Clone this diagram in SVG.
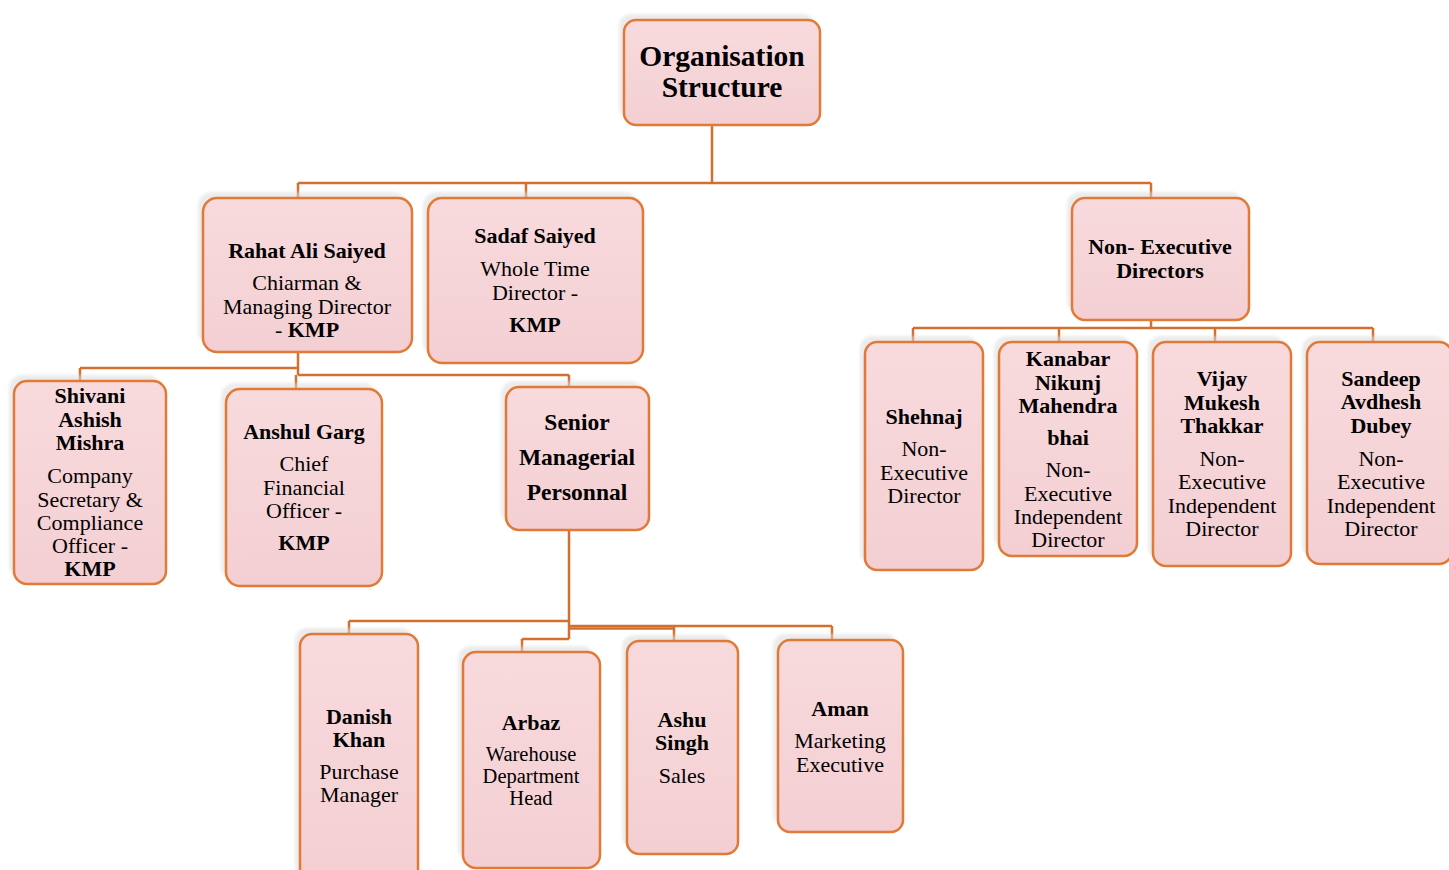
<svg xmlns="http://www.w3.org/2000/svg" width="1449" height="870" viewBox="0 0 1449 870">
<defs>
<linearGradient id="pink" x1="0" y1="0" x2="0" y2="1">
<stop offset="0" stop-color="#F8DADD"/>
<stop offset="1" stop-color="#F3CFD3"/>
</linearGradient>
<filter id="blur" x="-10%" y="-10%" width="120%" height="120%"><feGaussianBlur stdDeviation="1.5"/></filter>
</defs>
<style>
.sh{fill:#dcdcdc;opacity:0.55;filter:url(#blur)}
.bx{fill:url(#pink);stroke:#E07A36;stroke-width:2.5}
.ln{fill:none;stroke:#D4702F;stroke-width:2.5}
text{font-family:"Liberation Serif","Times New Roman",serif;font-size:22px;fill:#000;text-anchor:middle}
.b{font-weight:bold}
.t{font-size:29.5px;font-weight:bold}
.s{font-size:23.5px;font-weight:bold}
.sm{font-size:20.5px}
</style>
<rect width="1449" height="870" fill="#fff"/>
<g id="connectors">
<path class="ln" d="M712,125 V183 M298,183 H1151 M298,183 V198 M526,183 V198 M1151,183 V198"/>
<path class="ln" d="M298,352 V375 M80,368 H298 M80,368 V381 M298,375 H569 M296,375 V389 M569,375 V387"/>
<path class="ln" d="M1151,320 V328 M913,328 H1373 M913,328 V342 M1059,328 V342 M1215,328 V342 M1373,328 V342"/>
<path class="ln" d="M569,530 V639 M349,621 H569 M349,621 V634 M522,639 H569 M522,639 V652 M569,626 H832 M674,626 V641 M832,626 V640"/>
<path class="ln" d="M569,628.5 H674" stroke-width="2"/>
</g>
<g id="org">
<rect class="sh" x="619" y="14" width="196" height="105" rx="12"/>
<rect class="bx" x="624" y="20" width="196" height="105" rx="12"/>
<text class="t" x="722" y="66">Organisation</text>
<text class="t" x="722" y="97">Structure</text>
</g>
<g id="rahat">
<rect class="sh" x="198" y="192" width="209" height="154" rx="14"/>
<rect class="bx" x="203" y="198" width="209" height="154" rx="14"/>
<text class="b" x="307" y="258">Rahat Ali Saiyed</text>
<text x="307" y="290">Chiarman &amp;</text>
<text x="307" y="314">Managing Director</text>
<text x="307" y="337">- <tspan class="b">KMP</tspan></text>
</g>
<g id="sadaf">
<rect class="sh" x="423" y="192" width="215" height="165" rx="14"/>
<rect class="bx" x="428" y="198" width="215" height="165" rx="14"/>
<text class="b" x="535" y="243">Sadaf Saiyed</text>
<text x="535" y="276">Whole Time</text>
<text x="535" y="300">Director -</text>
<text class="b" x="535" y="332">KMP</text>
</g>
<g id="ned">
<rect class="sh" x="1067" y="192" width="177" height="122" rx="13"/>
<rect class="bx" x="1072" y="198" width="177" height="122" rx="13"/>
<text class="b" x="1160" y="254">Non- Executive</text>
<text class="b" x="1160" y="278">Directors</text>
</g>
<g id="shivani">
<rect class="sh" x="9" y="375" width="152" height="203" rx="13"/>
<rect class="bx" x="14" y="381" width="152" height="203" rx="13"/>
<text class="b" x="90" y="403">Shivani</text>
<text class="b" x="90" y="427">Ashish</text>
<text class="b" x="90" y="450">Mishra</text>
<text x="90" y="483">Company</text>
<text x="90" y="507">Secretary &amp;</text>
<text x="90" y="530">Compliance</text>
<text x="90" y="553">Officer -</text>
<text class="b" x="90" y="576">KMP</text>
</g>
<g id="anshul">
<rect class="sh" x="221" y="383" width="156" height="197" rx="14"/>
<rect class="bx" x="226" y="389" width="156" height="197" rx="14"/>
<text class="b" x="304" y="439">Anshul Garg</text>
<text x="304" y="471">Chief</text>
<text x="304" y="495">Financial</text>
<text x="304" y="518">Officer -</text>
<text class="b" x="304" y="550">KMP</text>
</g>
<g id="senior">
<rect class="sh" x="501" y="381" width="143" height="143" rx="13"/>
<rect class="bx" x="506" y="387" width="143" height="143" rx="13"/>
<text class="s" x="577" y="430">Senior</text>
<text class="s" x="577" y="465">Managerial</text>
<text class="s" x="577" y="500">Personnal</text>
</g>
<g id="shehnaj">
<rect class="sh" x="860" y="336" width="118" height="228" rx="12"/>
<rect class="bx" x="865" y="342" width="118" height="228" rx="12"/>
<text class="b" x="924" y="424">Shehnaj</text>
<text x="924" y="456">Non-</text>
<text x="924" y="480">Executive</text>
<text x="924" y="503">Director</text>
</g>
<g id="kanabar">
<rect class="sh" x="994" y="336" width="138" height="214" rx="13"/>
<rect class="bx" x="999" y="342" width="138" height="214" rx="13"/>
<text class="b" x="1068" y="366">Kanabar</text>
<text class="b" x="1068" y="390">Nikunj</text>
<text class="b" x="1068" y="413">Mahendra</text>
<text class="b" x="1068" y="445">bhai</text>
<text x="1068" y="477">Non-</text>
<text x="1068" y="501">Executive</text>
<text x="1068" y="524">Independent</text>
<text x="1068" y="547">Director</text>
</g>
<g id="vijay">
<rect class="sh" x="1148" y="336" width="138" height="224" rx="13"/>
<rect class="bx" x="1153" y="342" width="138" height="224" rx="13"/>
<text class="b" x="1222" y="386">Vijay</text>
<text class="b" x="1222" y="410">Mukesh</text>
<text class="b" x="1222" y="433">Thakkar</text>
<text x="1222" y="466">Non-</text>
<text x="1222" y="489">Executive</text>
<text x="1222" y="513">Independent</text>
<text x="1222" y="536">Director</text>
</g>
<g id="sandeep">
<rect class="sh" x="1302" y="336" width="145" height="222" rx="13"/>
<rect class="bx" x="1307" y="342" width="145" height="222" rx="13"/>
<text class="b" x="1381" y="386">Sandeep</text>
<text class="b" x="1381" y="409">Avdhesh</text>
<text class="b" x="1381" y="433">Dubey</text>
<text x="1381" y="466">Non-</text>
<text x="1381" y="489">Executive</text>
<text x="1381" y="513">Independent</text>
<text x="1381" y="536">Director</text>
</g>
<g id="danish">
<rect class="sh" x="295" y="628" width="118" height="250" rx="12"/>
<rect class="bx" x="300" y="634" width="118" height="250" rx="12"/>
<text class="b" x="359" y="724">Danish</text>
<text class="b" x="359" y="747">Khan</text>
<text x="359" y="779">Purchase</text>
<text x="359" y="802">Manager</text>
</g>
<g id="arbaz">
<rect class="sh" x="458" y="646" width="137" height="216" rx="13"/>
<rect class="bx" x="463" y="652" width="137" height="216" rx="13"/>
<text class="b" x="531" y="730">Arbaz</text>
<text class="sm" x="531" y="761">Warehouse</text>
<text class="sm" x="531" y="783">Department</text>
<text class="sm" x="531" y="805">Head</text>
</g>
<g id="ashu">
<rect class="sh" x="622" y="635" width="111" height="213" rx="12"/>
<rect class="bx" x="627" y="641" width="111" height="213" rx="12"/>
<text class="b" x="682" y="727">Ashu</text>
<text class="b" x="682" y="750">Singh</text>
<text x="682" y="783">Sales</text>
</g>
<g id="aman">
<rect class="sh" x="773" y="634" width="125" height="192" rx="12"/>
<rect class="bx" x="778" y="640" width="125" height="192" rx="12"/>
<text class="b" x="840" y="716">Aman</text>
<text x="840" y="748">Marketing</text>
<text x="840" y="772">Executive</text>
</g>
</svg>
